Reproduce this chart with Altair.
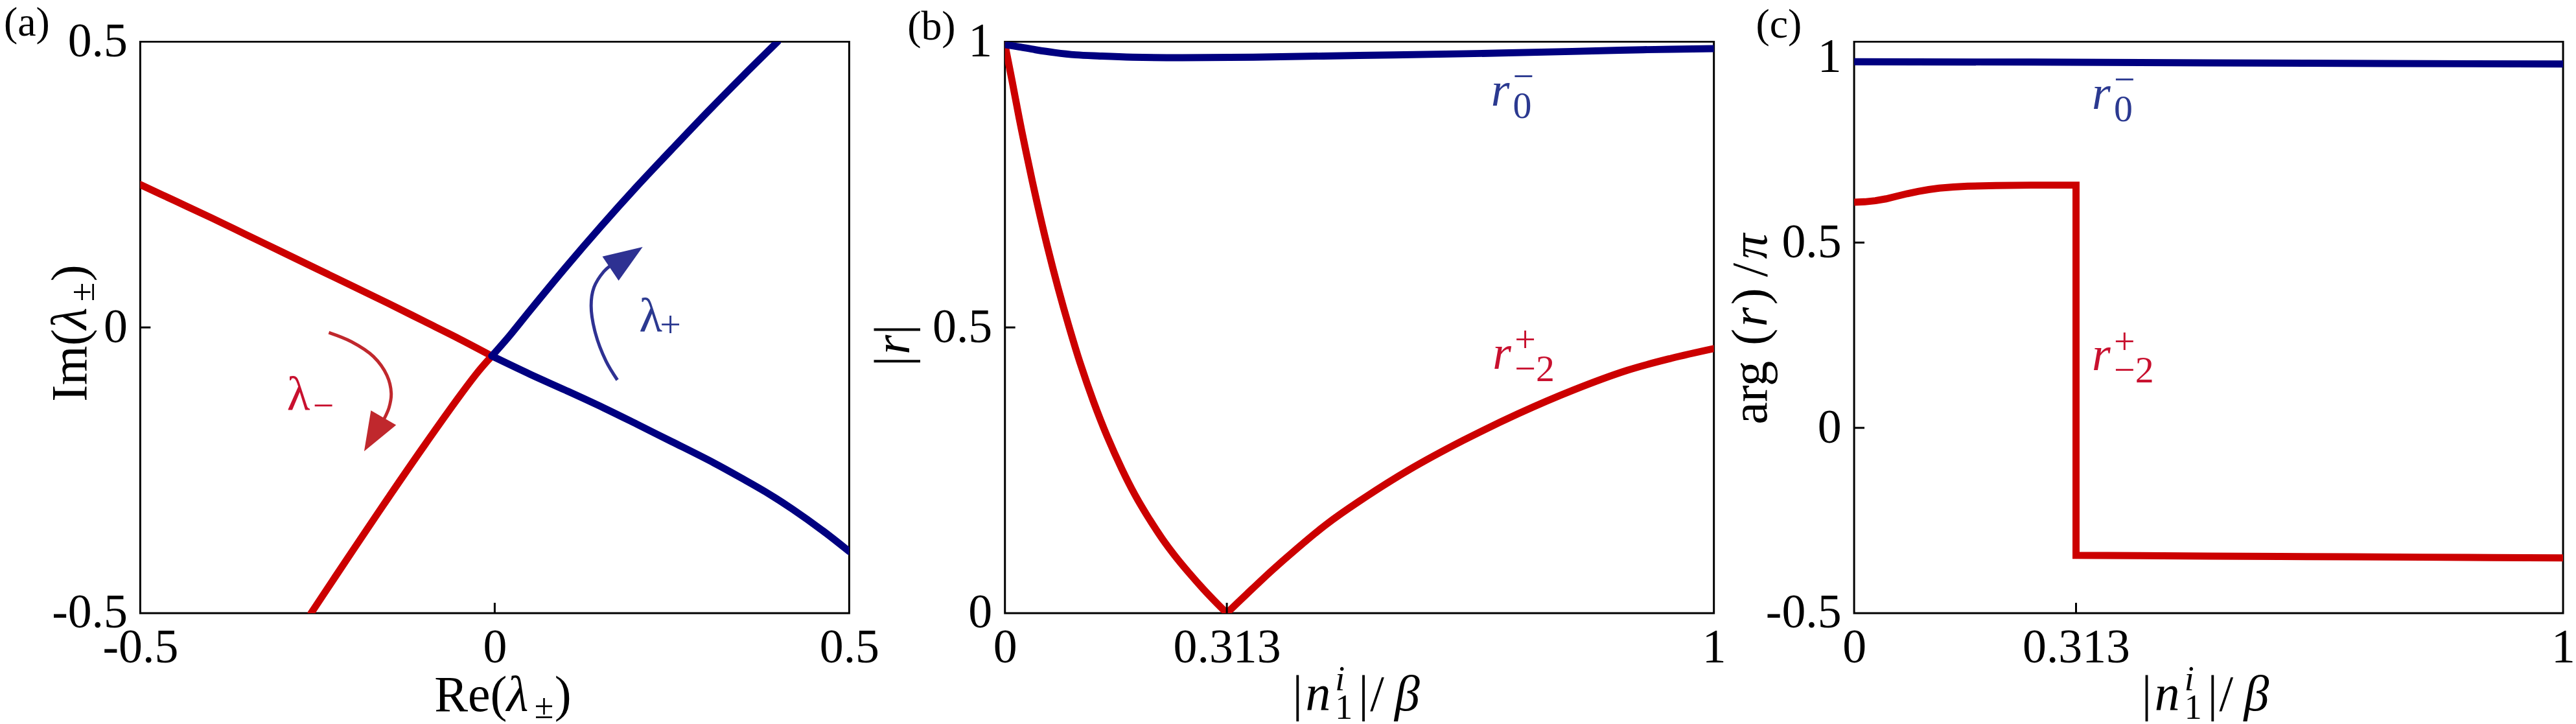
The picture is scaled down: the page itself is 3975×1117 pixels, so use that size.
import altair as alt
import pandas as pd

# ---------------- data ----------------
# panel (a): eigenvalue trajectories, each branch from/to the crossing point
a_minus_up_re = [-0.5, -0.45, -0.4, -0.35, -0.3, -0.25, -0.2, -0.15, -0.1, -0.05, -0.004]
a_minus_up_im = [0.25, 0.221, 0.192, 0.162, 0.132, 0.102, 0.072, 0.042, 0.011, -0.02, -0.05]
a_minus_dn_re = [-0.004, -0.012, -0.025, -0.05, -0.1, -0.15, -0.2, -0.259]
a_minus_dn_im = [-0.05, -0.061, -0.08, -0.121, -0.208, -0.298, -0.39, -0.5]
a_plus_up_re = [-0.004, 0.02, 0.05, 0.1, 0.15, 0.2, 0.25, 0.3, 0.35, 0.399]
a_plus_up_im = [-0.05, -0.016, 0.03, 0.105, 0.177, 0.246, 0.312, 0.377, 0.44, 0.5]
a_plus_dn_re = [-0.004, 0.05, 0.1, 0.154, 0.2, 0.25, 0.309, 0.35, 0.385, 0.42, 0.463, 0.5]
a_plus_dn_im = [-0.05, -0.082, -0.11, -0.141, -0.169, -0.2, -0.237, -0.265, -0.29, -0.318, -0.356, -0.392]
# curved arrows (annotation paths in data coordinates)
arrow_minus_re = [-0.234, -0.202, -0.171, -0.152, -0.146, -0.149, -0.156]
arrow_minus_im = [-0.009, -0.025, -0.051, -0.084, -0.115, -0.140, -0.160]
arrow_minus_head = (-0.1705, -0.1875, 210)
arrow_plus_re = [0.173, 0.157, 0.142, 0.136, 0.140, 0.154, 0.163]
arrow_plus_im = [-0.092, -0.059, -0.010, 0.038, 0.070, 0.098, 0.108]
arrow_plus_head = (0.186, 0.122, 56)
lam_minus_pos = (-0.293, -0.144)
lam_plus_pos = (0.2037, -0.007)

# panel (b): |r|
b_blue_x = [0, 0.02, 0.043, 0.07, 0.1, 0.134, 0.18, 0.25, 0.35, 0.5, 0.65, 0.8, 0.9, 1.0]
b_blue_y = [0.995, 0.991, 0.986, 0.981, 0.977, 0.975, 0.973, 0.972, 0.973, 0.976, 0.979, 0.983, 0.986, 0.988]
b_red_l_x = [0, 0.01, 0.02, 0.03, 0.045, 0.06, 0.075, 0.09, 0.106, 0.125, 0.144, 0.165, 0.183,
             0.2, 0.222, 0.24, 0.26, 0.28, 0.3, 0.313]
b_red_l_y = [0.995, 0.932, 0.867, 0.806, 0.72, 0.641, 0.569, 0.503, 0.438, 0.37, 0.31, 0.252, 0.208,
             0.172, 0.13, 0.1, 0.07, 0.042, 0.016, 0.0]
b_red_r_x = [0.313, 0.34, 0.376, 0.41, 0.453, 0.5, 0.569, 0.646, 0.724, 0.801, 0.878, 0.94, 1.0]
b_red_r_y = [0.0, 0.032, 0.074, 0.111, 0.155, 0.196, 0.25, 0.302, 0.349, 0.39, 0.425, 0.446, 0.463]
b_r0_pos = (0.6855, 0.888)
b_r2_pos = (0.688, 0.4276)

# panel (c): arg(r)/pi
c_blue_x = [0, 0.25, 0.5, 0.75, 1.0]
c_blue_y = [0.988, 0.987, 0.985, 0.983, 0.982]
c_red_x = [0, 0.015, 0.03, 0.045, 0.06, 0.075, 0.09, 0.105, 0.12, 0.14, 0.16, 0.2, 0.25, 0.313,
           0.313, 0.4, 0.5, 0.6, 0.7, 0.8, 0.9, 1.0]
c_red_y = [0.609, 0.610, 0.613, 0.618, 0.625, 0.632, 0.638, 0.643, 0.647, 0.650, 0.652, 0.654, 0.655,
           0.655, -0.344, -0.345, -0.346, -0.347, -0.348, -0.349, -0.35, -0.351]
c_r0_pos = (0.3355, 0.860)
c_r2_pos = (0.3355, 0.155)

# axes
a_xticks = [-0.5, 0, 0.5]
a_yticks = [-0.5, 0, 0.5]
b_xticks = [0, 0.313, 1]
b_yticks = [0, 0.5, 1]
c_xticks = [0, 0.313, 1]
c_yticks = [-0.5, 0, 0.5, 1]
a_inner_x, a_inner_y = [0], [0]
b_inner_x, b_inner_y = [0.313], [0.5]
c_inner_x, c_inner_y = [0.313], [0, 0.5]

# axis titles as (text, size, italic, dx, dy) pieces
T, TS = 78, 54
title_re = [("Re(", T, False, 0, 0), ("λ", T, True, 112, 0), ("±", TS, False, 155, 12), (")", T, False, 186, 0)]
title_im = [("Im(", T, False, 0, 0), ("λ", T, True, 112, 0), ("±", TS, False, 155, 12), (")", T, False, 186, 0)]
title_n = [("|", T, False, 0, 0), ("n", T, True, 20, 0), ("i", TS, True, 66, -31), ("1", TS, False, 66, 14),
           ("|", T, False, 102, 0), ("/", T, False, 120, 0), ("β", T, True, 158, 0)]
title_r = [("|", T, False, 0, 0), ("r", T, True, 18, 0), ("|", T, False, 49, 0)]
title_arg = [("arg", T, False, 0, 0), ("(", T, False, 122, 0), ("r", T, True, 151, 0),
             (")", T, False, 185, 0), ("/", T, False, 228, 0), ("π", T, True, 256, 0)]

# ---------------- style ----------------
FONT = "Liberation Serif"
RED = "#cc0000"
BLUE = "#000080"
RED_T = "#c8102e"
BLUE_T = "#2b3990"
RED_A = "#c0282d"
BLUE_A = "#2e3192"
W, H = 1097, 884
FS = 74
FS_SUB = 58
LW = 11

AX = dict(ticks=False, domain=False, grid=False, labelFont=FONT, labelFontSize=FS,
          labelColor="black", labelFlush=False, labelOverlap=False,
          labelExpr="toString(datum.value)", title="")


def xenc(domain, values):
    return alt.X("x:Q", scale=alt.Scale(domain=domain, nice=False, zero=False),
                 axis=alt.Axis(values=values, labelPadding=18, **AX))


def yenc(domain, values):
    return alt.Y("y:Q", scale=alt.Scale(domain=domain, nice=False, zero=False),
                 axis=alt.Axis(values=values, labelPadding=20, **AX))


def line(xs, ys, color, width, X, Y, interp="catmull-rom", cap="round"):
    df = pd.DataFrame({"x": xs, "y": ys, "o": list(range(len(xs)))})
    return alt.Chart(df).mark_line(color=color, strokeWidth=width, clip=True,
                                   interpolate=interp, strokeCap=cap).encode(
        x=X, y=Y, order="o:Q")


def head(h, color, X, Y):
    df = pd.DataFrame({"x": [h[0]], "y": [h[1]]})
    return alt.Chart(df).mark_point(shape="M0,-1L0.75,1L-0.75,1Z", size=3600, filled=True,
                                    opacity=1, color=color, angle=h[2], strokeWidth=0).encode(x=X, y=Y)


def inner_ticks(xv, yv, X, Y):
    dx = pd.DataFrame({"x": xv})
    dy = pd.DataFrame({"y": yv})
    tx = alt.Chart(dx).mark_rule(color="black", strokeWidth=3).encode(
        x=X, y=alt.value(H), y2=alt.value(H - 16))
    ty = alt.Chart(dy).mark_rule(color="black", strokeWidth=3).encode(
        y=Y, x=alt.value(0), x2=alt.value(16))
    return [tx, ty]


def txt(pos, s, color, size, X, Y, dx=0, dy=0, italic=False):
    df = pd.DataFrame({"x": [pos[0]], "y": [pos[1]], "t": [s]})
    kw = dict(font=FONT, fontSize=size, color=color, align="left", baseline="alphabetic", dx=dx, dy=dy)
    if italic:
        kw["fontStyle"] = "italic"
    return alt.Chart(df).mark_text(**kw).encode(x=X, y=Y, text="t:N")


def rlabel(pos, sup, sub, color, X, Y):
    return [txt(pos, "r", color, FS, X, Y, italic=True),
            txt(pos, sup, color, FS_SUB, X, Y, dx=34, dy=-26),
            txt(pos, sub, color, FS_SUB, X, Y, dx=34, dy=19)]


def rich(pieces, px, py, angle=0):
    out = []
    for s, size, italic, dx, dy in pieces:
        kw = dict(font=FONT, fontSize=size, color="black", align="left", baseline="alphabetic",
                  dx=dx, dy=dy, angle=angle)
        if italic:
            kw["fontStyle"] = "italic"
        out.append(alt.Chart(pd.DataFrame({"t": [s]})).mark_text(**kw).encode(
            x=alt.value(px), y=alt.value(py), text="t:N"))
    return out


def letter(s, x, y):
    df = pd.DataFrame({"t": [s]})
    return alt.Chart(df).mark_text(font=FONT, fontSize=64, color="black", align="left",
                                   baseline="alphabetic").encode(
        x=alt.value(x), y=alt.value(y), text="t:N")


def extent_guide(x):
    # invisible vertical guide that fixes the page margins (left/top/bottom)
    df = pd.DataFrame({"k": [0]})
    return alt.Chart(df).mark_rule(strokeOpacity=0, strokeWidth=1).encode(
        x=alt.value(x), y=alt.value(-61), y2=alt.value(H + 172))


# ---------------- panel (a) ----------------
XA = xenc([-0.5, 0.5], a_xticks)
YA = yenc([-0.5, 0.5], a_yticks)
pa = alt.layer(
    line(a_minus_up_re, a_minus_up_im, RED, LW, XA, YA),
    line(a_minus_dn_re, a_minus_dn_im, RED, LW, XA, YA),
    line(a_plus_up_re, a_plus_up_im, BLUE, LW, XA, YA),
    line(a_plus_dn_re, a_plus_dn_im, BLUE, LW, XA, YA),
    line(arrow_minus_re, arrow_minus_im, RED_A, 5, XA, YA, cap="butt"),
    head(arrow_minus_head, RED_A, XA, YA),
    line(arrow_plus_re, arrow_plus_im, BLUE_A, 5, XA, YA, cap="butt"),
    head(arrow_plus_head, BLUE_A, XA, YA),
    *inner_ticks(a_inner_x, a_inner_y, XA, YA),
    txt(lam_minus_pos, "λ", RED_T, FS, XA, YA),
    txt(lam_minus_pos, "−", RED_T, FS_SUB, XA, YA, dx=40, dy=13),
    txt(lam_plus_pos, "λ", BLUE_T, FS, XA, YA),
    txt(lam_plus_pos, "+", BLUE_T, FS_SUB, XA, YA, dx=32, dy=9),
    *rich(title_re, 455, H + 151),
    *rich(title_im, -84, 557, angle=270),
    letter("(a)", -211, -9),
    extent_guide(-215),
).properties(width=W, height=H)

# ---------------- panel (b) ----------------
XB = xenc([0, 1], b_xticks)
YB = yenc([0, 1], b_yticks)
pb = alt.layer(
    line(b_red_l_x, b_red_l_y, RED, LW, XB, YB),
    line(b_red_r_x, b_red_r_y, RED, LW, XB, YB),
    line(b_blue_x, b_blue_y, BLUE, LW, XB, YB),
    *inner_ticks(b_inner_x, b_inner_y, XB, YB),
    *rlabel(b_r0_pos, "−", "0", BLUE_T, XB, YB),
    *rlabel(b_r2_pos, "+", "−2", RED_T, XB, YB),
    *rich(title_n, 445, H + 150),
    *rich(title_r, -148, 502, angle=270),
    letter("(b)", -151, -3),
).properties(width=W, height=H)

# ---------------- panel (c) ----------------
XC = xenc([0, 1], c_xticks)
YC = yenc([-0.5, 1.042], c_yticks)
pc = alt.layer(
    line(c_red_x, c_red_y, RED, LW, XC, YC, interp="linear", cap="butt"),
    line(c_blue_x, c_blue_y, BLUE, LW, XC, YC, interp="linear", cap="butt"),
    *inner_ticks(c_inner_x, c_inner_y, XC, YC),
    *rlabel(c_r0_pos, "−", "0", BLUE_T, XC, YC),
    *rlabel(c_r2_pos, "+", "−2", RED_T, XC, YC),
    *rich(title_n, 445, H + 150),
    *rich(title_arg, -135, 592, angle=270),
    letter("(c)", -152, -6),
).properties(width=W, height=H)


def spacer(w):
    return alt.Chart(pd.DataFrame({"x": [0]})).mark_point(opacity=0).encode(
        x=alt.value(0), y=alt.value(0)).properties(
        width=w, height=H, view=alt.ViewBackground(stroke="transparent", strokeWidth=0))


chart = alt.hconcat(pa, spacer(241), pb, spacer(217), pc, spacing=0, bounds="flush").properties(
    padding=0, background="white",
).configure_view(stroke="black", strokeWidth=3)

chart.save("out.html", embed_options={"renderer": "svg", "actions": False})
